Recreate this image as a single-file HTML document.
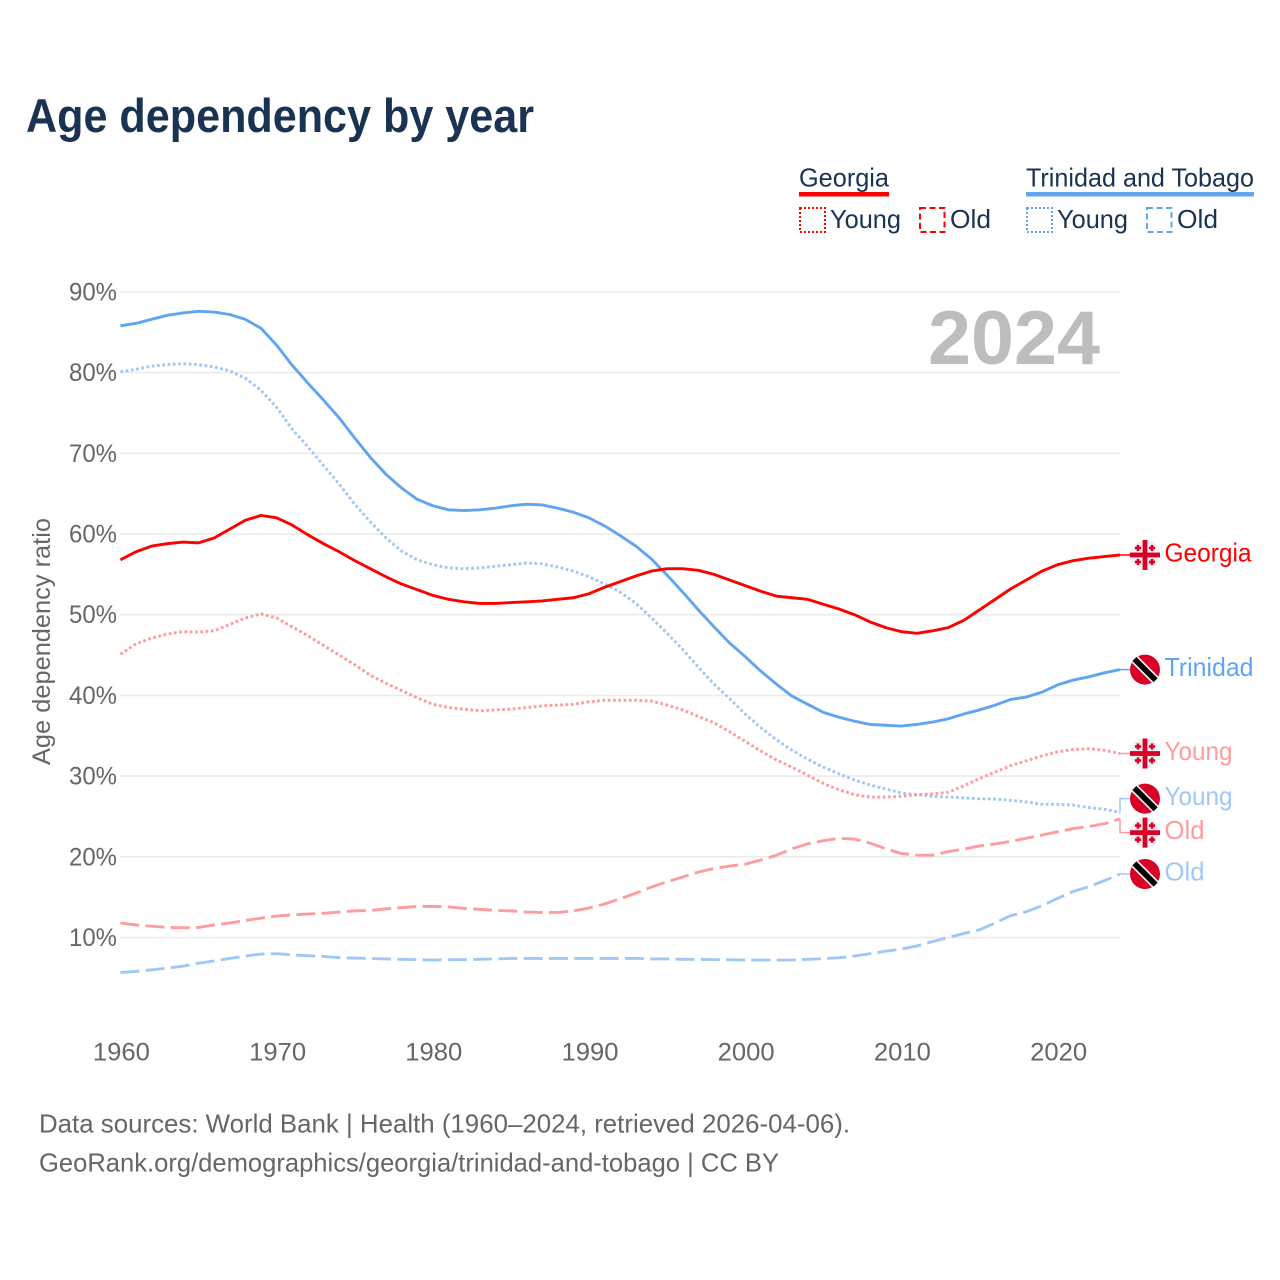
<!DOCTYPE html>
<html lang="en">
<head>
<meta charset="utf-8">
<title>Age dependency by year</title>
<style>
html,body{margin:0;padding:0;background:#fff}
svg{display:block}
text{font-family:"Liberation Sans",sans-serif}
</style>
</head>
<body>
<svg id="chart" width="1280" height="1280" viewBox="0 0 1280 1280" xmlns="http://www.w3.org/2000/svg">
  <rect width="1280" height="1280" fill="#fff"/>
  <text x="26" y="132" font-size="47" font-weight="700" fill="#1a3353" textLength="508" lengthAdjust="spacingAndGlyphs">Age dependency by year</text>

  <g font-size="26" fill="#1a3353">
    <text x="799" y="186.5" textLength="90" lengthAdjust="spacingAndGlyphs">Georgia</text>
    <rect x="799" y="192" width="90" height="4.5" fill="#ff0000"/>
    <rect x="800" y="208" width="25" height="24" fill="none" stroke="#ff0000" stroke-width="2" stroke-dasharray="2 2"/>
    <text x="830" y="228" textLength="71" lengthAdjust="spacingAndGlyphs">Young</text>
    <rect x="920" y="208" width="24.5" height="24" fill="none" stroke="#ff0000" stroke-width="2" stroke-dasharray="6 3.5"/>
    <text x="950" y="228" textLength="41" lengthAdjust="spacingAndGlyphs">Old</text>
    <text x="1026" y="186.5" textLength="228" lengthAdjust="spacingAndGlyphs">Trinidad and Tobago</text>
    <rect x="1026" y="192" width="228" height="4.5" fill="#60a5ee"/>
    <rect x="1027" y="208" width="25" height="24" fill="none" stroke="#60a5ee" stroke-width="2" stroke-dasharray="2 2"/>
    <text x="1057" y="228" textLength="71" lengthAdjust="spacingAndGlyphs">Young</text>
    <rect x="1147" y="208" width="24.5" height="24" fill="none" stroke="#60a5ee" stroke-width="2" stroke-dasharray="6 3.5"/>
    <text x="1177" y="228" textLength="41" lengthAdjust="spacingAndGlyphs">Old</text>
  </g>

  <text x="1100" y="364" text-anchor="end" font-size="76" font-weight="700" fill="#bdbdbd" textLength="172" lengthAdjust="spacingAndGlyphs">2024</text>
  <text transform="translate(50 641.5) rotate(-90)" text-anchor="middle" font-size="25" fill="#666666" textLength="247" lengthAdjust="spacingAndGlyphs">Age dependency ratio</text>

  <g id="grid"></g>
  <g id="yticks"></g>
  <g id="xticks"></g>
  <g id="series"></g>
  <g id="labels"></g>

  <g font-size="26" fill="#666666">
    <text x="39" y="1132.5" textLength="811" lengthAdjust="spacingAndGlyphs">Data sources: World Bank | Health (1960–2024, retrieved 2026-04-06).</text>
    <text x="39" y="1171.5" textLength="740" lengthAdjust="spacingAndGlyphs">GeoRank.org/demographics/georgia/trinidad-and-tobago | CC BY</text>
  </g>
</svg>
<script>
const startYear = 1960;
const yTickValues = [10, 20, 30, 40, 50, 60, 70, 80, 90];
const xTickValues = [1960, 1970, 1980, 1990, 2000, 2010, 2020];

const georgiaTotal = [56.8,57.8,58.5,58.8,59.0,58.9,59.5,60.6,61.7,62.3,62.0,61.1,59.9,58.8,57.8,56.7,55.7,54.7,53.8,53.1,52.4,51.9,51.6,51.4,51.4,51.5,51.6,51.7,51.9,52.1,52.6,53.4,54.1,54.8,55.4,55.7,55.7,55.5,55.0,54.3,53.6,52.9,52.3,52.1,51.9,51.3,50.7,50.0,49.1,48.4,47.9,47.7,48.0,48.4,49.3,50.6,51.9,53.2,54.3,55.4,56.2,56.7,57.0,57.2,57.4];
const trinidadTotal = [85.8,86.1,86.6,87.1,87.4,87.6,87.5,87.2,86.6,85.5,83.4,80.9,78.7,76.6,74.4,71.9,69.5,67.4,65.7,64.3,63.5,63.0,62.9,63.0,63.2,63.5,63.7,63.6,63.2,62.7,62.0,61.0,59.8,58.5,56.9,54.9,52.8,50.6,48.5,46.5,44.8,43.0,41.4,39.9,38.9,37.9,37.3,36.8,36.4,36.3,36.2,36.4,36.7,37.1,37.7,38.2,38.8,39.5,39.8,40.4,41.3,41.9,42.3,42.8,43.2];
const georgiaYoung = [45.1,46.4,47.1,47.6,47.9,47.85,48.0,48.8,49.6,50.1,49.6,48.5,47.4,46.2,45.0,43.8,42.5,41.5,40.6,39.7,38.9,38.5,38.3,38.1,38.2,38.3,38.5,38.7,38.8,38.9,39.2,39.4,39.4,39.4,39.3,38.8,38.2,37.4,36.6,35.5,34.3,33.1,32.0,31.1,30.1,29.1,28.3,27.7,27.4,27.4,27.5,27.7,27.8,28.0,28.8,29.7,30.5,31.3,31.9,32.5,33.0,33.3,33.4,33.2,32.8];
const trinidadYoung = [80.1,80.4,80.8,81.0,81.1,81.0,80.7,80.2,79.3,77.8,75.7,73.0,70.8,68.5,66.2,63.7,61.5,59.5,57.9,56.8,56.2,55.8,55.7,55.8,56.0,56.2,56.4,56.3,55.9,55.4,54.7,53.8,52.8,51.4,49.6,47.7,45.7,43.5,41.4,39.6,37.7,36.0,34.5,33.2,32.1,31.1,30.3,29.5,28.9,28.4,27.9,27.7,27.5,27.4,27.3,27.2,27.15,27.0,26.8,26.5,26.5,26.4,26.1,25.9,25.5];
const georgiaOld = [11.8,11.55,11.4,11.25,11.2,11.25,11.55,11.8,12.1,12.4,12.65,12.8,12.9,13.0,13.15,13.3,13.35,13.55,13.7,13.85,13.85,13.8,13.6,13.5,13.35,13.3,13.15,13.1,13.1,13.3,13.65,14.15,14.8,15.5,16.25,16.9,17.5,18.1,18.55,18.85,19.1,19.6,20.2,21.0,21.6,22.0,22.3,22.2,21.7,21.0,20.4,20.2,20.2,20.65,20.95,21.35,21.6,21.9,22.3,22.7,23.1,23.5,23.75,24.1,24.7];
const trinidadOld = [5.65,5.8,6.0,6.2,6.45,6.8,7.1,7.4,7.7,7.95,8.0,7.85,7.75,7.65,7.5,7.45,7.4,7.35,7.3,7.25,7.2,7.25,7.25,7.3,7.35,7.4,7.4,7.4,7.4,7.4,7.4,7.4,7.4,7.4,7.35,7.35,7.3,7.3,7.25,7.25,7.2,7.2,7.2,7.22,7.3,7.37,7.5,7.7,8.0,8.3,8.57,8.95,9.5,10.0,10.5,10.95,11.8,12.7,13.2,13.95,14.85,15.7,16.3,17.05,17.87];

const NS = 'http://www.w3.org/2000/svg';
const xPos = year => 120.4 + (year - startYear) * 15.62;
const yPos = value => 1018.2 - value * 8.07;

function make(tag, attrs, parent, text) {
  const el = document.createElementNS(NS, tag);
  for (const k in attrs) el.setAttribute(k, attrs[k]);
  if (text !== undefined) el.textContent = text;
  parent.appendChild(el);
  return el;
}

const gridG = document.getElementById('grid');
const yTickG = document.getElementById('yticks');
yTickValues.forEach(v => {
  const line = make('line', {x1: 120, x2: 1120, y1: yPos(v), y2: yPos(v), stroke: '#ebebeb', 'stroke-width': 1.6}, gridG);
  
  
  const label = make('text', {x: 117, y: yPos(v) + 8.5, 'text-anchor': 'end', 'font-size': 25, fill: '#666666', textLength: 48, lengthAdjust: 'spacingAndGlyphs'}, yTickG, v + '%');
  
  
});

const xTickG = document.getElementById('xticks');
xTickValues.forEach(y => {
  const label = make('text', {x: xPos(y) + 1, y: 1060.5, 'text-anchor': 'middle', 'font-size': 25, fill: '#666666', textLength: 57, lengthAdjust: 'spacingAndGlyphs'}, xTickG, String(y));
  
  
});

const RED = '#ff0000', BLUE = '#60a5ee', PINK = '#ff9c9f', SKY = '#a0c8f4';
const DOT = '2.8 2.5', DASH = '19 6.3';
const seriesList = [
  {name: 'trinidad-old', values: trinidadOld, color: SKY, dash: DASH, label: 'Old', flag: 'tt', w: 40},
  {name: 'georgia-old', values: georgiaOld, color: PINK, dash: DASH, label: 'Old', flag: 'ge', w: 40},
  {name: 'trinidad-young', values: trinidadYoung, color: SKY, dash: DOT, label: 'Young', flag: 'tt', w: 68},
  {name: 'georgia-young', values: georgiaYoung, color: PINK, dash: DOT, label: 'Young', flag: 'ge', w: 68},
  {name: 'trinidad-total', values: trinidadTotal, color: BLUE, dash: null, label: 'Trinidad', flag: 'tt', w: 89},
  {name: 'georgia-total', values: georgiaTotal, color: RED, dash: null, label: 'Georgia', flag: 'ge', w: 87}
];

const seriesG = document.getElementById('series');
seriesList.forEach(s => {
  const d = s.values.map((v, i) => (i ? 'L' : 'M') + xPos(startYear + i).toFixed(2) + ' ' + yPos(v).toFixed(2)).join('');
  const attrs = {d: d, fill: 'none', stroke: s.color, 'stroke-width': 2.9, 'stroke-linejoin': 'round'};
  if (s.dash) attrs['stroke-dasharray'] = s.dash;
  const path = make('path', attrs, seriesG);
  
  
});

/* Dodge end labels so flags never overlap */
const minGap = 34;
const placed = seriesList.map(s => {
  const endY = yPos(s.values[s.values.length - 1]);
  return {s: s, endY: endY, y: endY};
}).sort((a, b) => a.endY - b.endY);
for (let pass = 0; pass < 30; pass++) {
  for (let i = 1; i < placed.length; i++) {
    const gap = placed[i].y - placed[i - 1].y;
    if (gap < minGap) {
      const push = (minGap - gap) / 2;
      placed[i - 1].y -= push;
      placed[i].y += push;
    }
  }
}

function drawGeorgiaFlag(g, cx, cy) {
  make('circle', {cx: cx, cy: cy, r: 15, fill: '#f0f0f0'}, g);
  const red = '#d80027';
  make('rect', {x: cx - 2.4, y: cy - 15, width: 4.8, height: 30, fill: red}, g);
  make('rect', {x: cx - 15, y: cy - 2.4, width: 30, height: 4.8, fill: red}, g);
  [[-7, -7], [7, -7], [-7, 7], [7, 7]].forEach(o => {
    make('rect', {x: cx + o[0] - 1.3, y: cy + o[1] - 3.1, width: 2.6, height: 6.2, fill: red}, g);
    make('rect', {x: cx + o[0] - 3.1, y: cy + o[1] - 1.3, width: 6.2, height: 2.6, fill: red}, g);
  });
}

function drawTrinidadFlag(g, cx, cy) {
  make('circle', {cx: cx, cy: cy, r: 15, fill: '#d80027'}, g);
  const k = 15 * Math.SQRT1_2;
  make('line', {x1: cx - k, y1: cy - k, x2: cx + k, y2: cy + k, stroke: '#f0f0f0', 'stroke-width': 9}, g);
  make('line', {x1: cx - k, y1: cy - k, x2: cx + k, y2: cy + k, stroke: '#000000', 'stroke-width': 5.6}, g);
}

const labelsG = document.getElementById('labels');
placed.forEach(p => {
  const s = p.s;
  const connector = make('path', {d: 'M1120 ' + p.endY.toFixed(2) + 'L1120 ' + p.y.toFixed(2) + 'L1132 ' + p.y.toFixed(2), fill: 'none', stroke: s.color, 'stroke-width': 1.5}, labelsG);
  
  
  const flag = make('g', {}, labelsG);
  
  
  if (s.flag === 'ge') drawGeorgiaFlag(flag, 1145, p.y);
  else drawTrinidadFlag(flag, 1145, p.y);
  const text = make('text', {x: 1164.5, y: p.y + 6.5, 'font-size': 26, fill: s.color, textLength: s.w, lengthAdjust: 'spacingAndGlyphs'}, labelsG, s.label);
  
  
});
</script>
</body>
</html>
